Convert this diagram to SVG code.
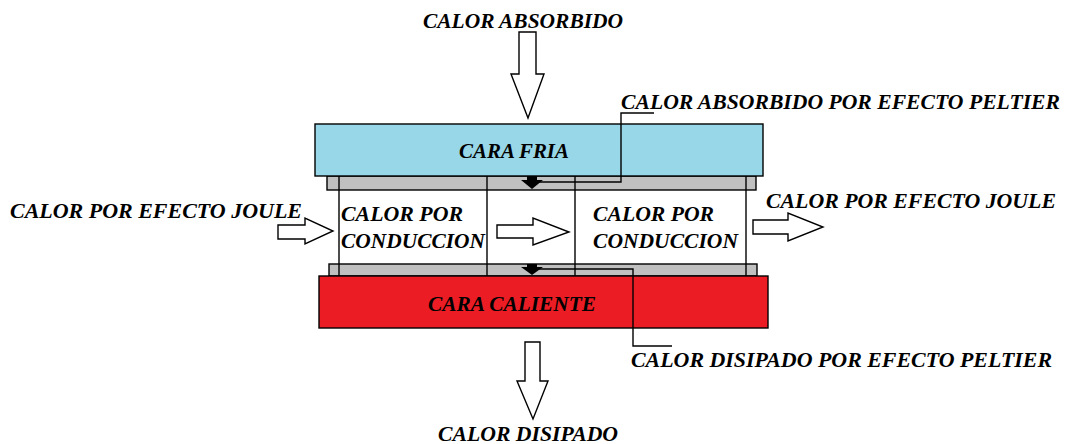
<svg xmlns="http://www.w3.org/2000/svg" width="1065" height="444" viewBox="0 0 1065 444">
<style>
text{font-family:'Liberation Serif','DejaVu Serif',serif;font-weight:700;font-style:italic;font-size:22px;fill:#000}
.blk{stroke:#000;stroke-width:1.4}
.arrow{fill:#fff;stroke:#000;stroke-width:1.4;stroke-linejoin:miter}
.line{fill:none;stroke:#000;stroke-width:1.4}
</style>
<rect width="1065" height="444" fill="#fff"/>
<g id="module">
<rect id="gray-top" x="327" y="176" width="429" height="14" fill="#c0c0c0" class="blk"/>
<rect id="gray-bottom" x="329" y="264" width="428" height="12" fill="#c0c0c0" class="blk"/>
<g id="legs" class="line">
<line x1="339" y1="176" x2="339" y2="276"/>
<line x1="487" y1="176" x2="487" y2="276"/>
<line x1="575" y1="176" x2="575" y2="276"/>
<line x1="746" y1="176" x2="746" y2="276"/>
</g>
</g>
<g id="cara-fria">
<rect x="315" y="124" width="448" height="52" fill="#98d7e7" class="blk"/>
<text x="459" y="158" textLength="110" lengthAdjust="spacingAndGlyphs">CARA FRIA</text>
</g>
<g id="cara-caliente">
<rect x="319" y="276" width="449" height="52" fill="#ec1c24" class="blk"/>
<text x="428" y="311" textLength="168" lengthAdjust="spacingAndGlyphs">CARA CALIENTE</text>
</g>
<g id="conduccion-izq">
<text x="341" y="221" textLength="122" lengthAdjust="spacingAndGlyphs">CALOR POR</text>
<text x="341" y="248" textLength="144" lengthAdjust="spacingAndGlyphs">CONDUCCION</text>
</g>
<g id="conduccion-der">
<text x="593" y="221" textLength="121" lengthAdjust="spacingAndGlyphs">CALOR POR</text>
<text x="593" y="248" textLength="145" lengthAdjust="spacingAndGlyphs">CONDUCCION</text>
</g>
<g id="label-absorbido">
<text x="423" y="28" textLength="200" lengthAdjust="spacingAndGlyphs">CALOR ABSORBIDO</text>
</g>
<g id="label-absorbido-peltier">
<text x="621" y="109" textLength="439" lengthAdjust="spacingAndGlyphs">CALOR ABSORBIDO POR EFECTO PELTIER</text>
</g>
<g id="label-joule-izq">
<text x="10" y="218" textLength="292" lengthAdjust="spacingAndGlyphs">CALOR POR EFECTO JOULE</text>
</g>
<g id="label-joule-der">
<text x="766" y="208" textLength="290" lengthAdjust="spacingAndGlyphs">CALOR POR EFECTO JOULE</text>
</g>
<g id="label-disipado-peltier">
<text x="631" y="367" textLength="421" lengthAdjust="spacingAndGlyphs">CALOR DISIPADO POR EFECTO PELTIER</text>
</g>
<g id="label-disipado">
<text x="438" y="441" textLength="180" lengthAdjust="spacingAndGlyphs">CALOR DISIPADO</text>
</g>
<g id="connectors">
<polygon class="arrow" points="519,32 536,32 536,74 544,74 528,118 511,74 519,74"/>
<polygon class="arrow" points="525,342 540,342 540,381 548,381 533,419 517,381 525,381"/>
<polygon class="arrow" points="278,225 305,225 305,218 333,231 305,244 305,239 278,239"/>
<polygon class="arrow" points="497,225 533,225 533,218 569,232 533,245 533,238 497,238"/>
<polygon class="arrow" points="753,220 788,220 788,213 823,227 788,241 788,234 753,234"/>
<polyline class="line" points="654,113 621,113 621,182 533,182"/>
<polyline class="line" points="533,269 633,269 633,346 672,346"/>
<polygon fill="#000" points="527,176 537,176 537,180 543,180 532,189 521,180 527,180"/>
<polygon fill="#000" points="527,264 537,264 537,267 543,267 532,275 521,267 527,267"/>
</g>
</svg>
